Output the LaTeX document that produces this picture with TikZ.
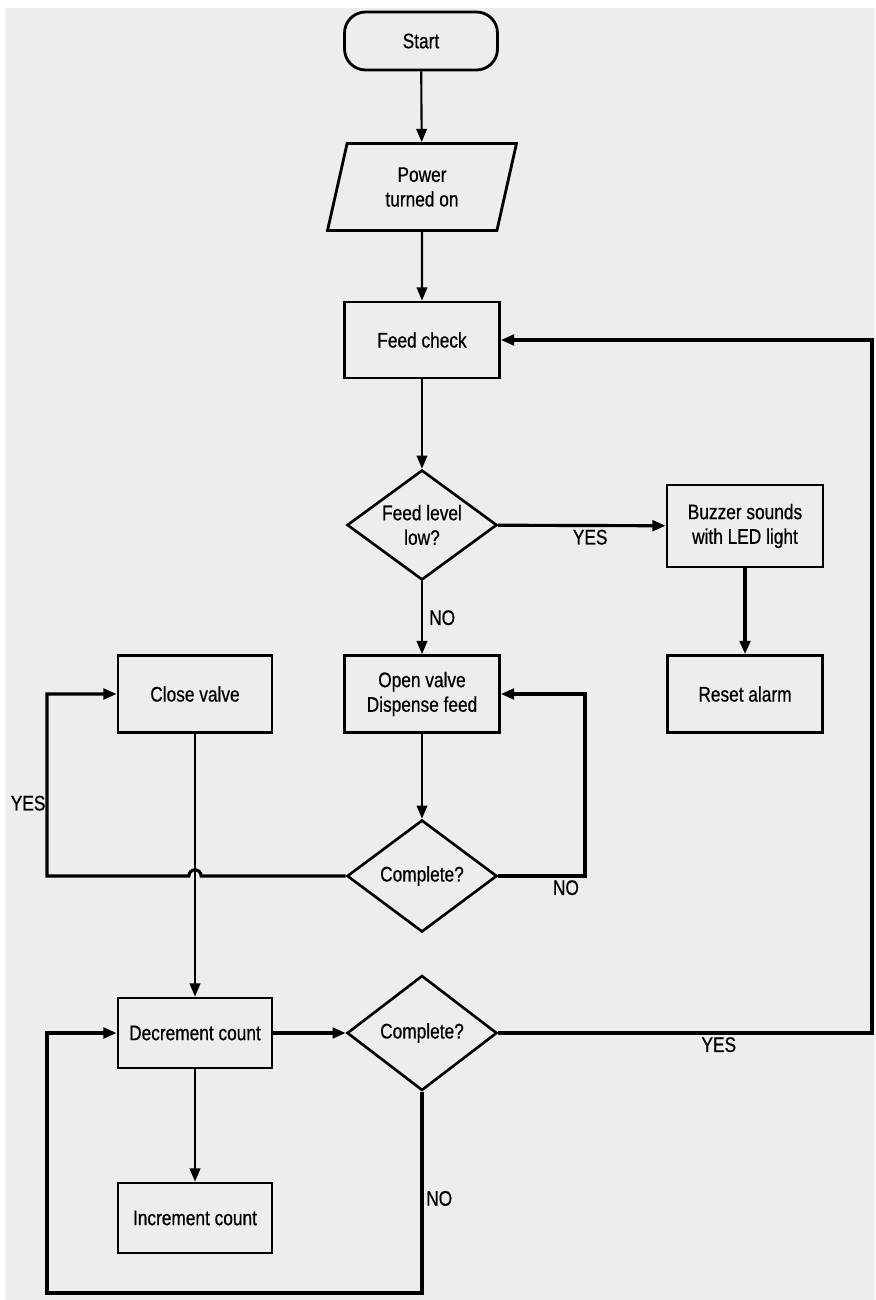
\documentclass[tikz,border=0pt]{standalone}
\usepackage{fontspec}
\setmainfont{Liberation Sans}[FakeStretch=0.82,FakeBold=0.6]
\usepackage{tikz}
\usetikzlibrary{arrows.meta,shapes.geometric}
\definecolor{bggray}{HTML}{EDEDED}

\begin{document}
\begin{tikzpicture}[x=0.02cm,y=-0.02cm,
    every node/.style={font=\fontsize{12}{14}\selectfont,align=center},
    box/.style={draw,line width=1.6pt,rectangle,inner sep=2pt},
    term/.style={box,rounded corners=0.42cm,minimum width=3.06cm,minimum height=1.16cm},
    inout/.style={draw,line width=1.6pt,trapezium,trapezium left angle=69,trapezium right angle=111,
      trapezium stretches body,minimum width=3.78cm,minimum height=1.74cm},
    decide/.style={draw,line width=1.5pt,diamond,aspect=1.35,inner sep=0pt,minimum width=3cm,minimum height=2.24cm},
    conn/.style={line width=1.2pt,-{Triangle[length=7.5pt,width=6pt]}},
    back/.style={conn,line width=1.8pt},
    lbl/.style={inner sep=1.5pt}]
  % background
  \fill[white] (0,0) rectangle (875,1300);
  \fill[bggray] (5,8) rectangle (875,1300);
  \useasboundingbox (0,0) rectangle (875,1300);

  % main column
  \node[term] (start) at (421,41) {Start};
  \node[inout] (pwr) at (422,187) {Power\\turned on};
  \node[box,minimum width=3.1cm,minimum height=1.52cm] (fc) at (422,340) {Feed check};
  \node[decide,minimum height=2.2cm] (lvl) at (422,525) {Feed level\\low?};
  \node[box,minimum width=3.12cm,minimum height=1.64cm] (buz) at (745,526) {Buzzer sounds\\with LED light};
  \node[box,minimum width=3.1cm,minimum height=1.54cm] (rst) at (745,694) {Reset alarm};
  \node[box,minimum width=3.1cm,minimum height=1.54cm] (ov) at (422,694) {Open valve\\Dispense feed};
  \node[box,minimum width=3.08cm,minimum height=1.54cm] (cv) at (195,694) {Close valve};
  \node[decide] (cmp1) at (422,876) {Complete?};
  \node[box,minimum width=3.08cm,minimum height=1.4cm] (dec) at (195,1033) {Decrement count};
  \node[decide,minimum height=2.3cm] (cmp2) at (422,1033) {Complete?};
  \node[box,minimum width=3.08cm,minimum height=1.4cm] (inc) at (195,1218) {Increment count};

  % loop rails
  \coordinate (lft) at (47,0);
  \coordinate (mid) at (585,0);
  \coordinate (rgt) at (872,0);
  \coordinate (bot) at (0,1293);

  \draw[conn] (start) -- (pwr);
  \draw[conn] (pwr) -- (fc);
  \draw[conn] (fc) -- (lvl);
  \draw[back] (lvl) -- node[lbl,pos=0.55,below]{YES} (buz);
  \draw[back] (buz) -- (rst);
  \draw[conn] (lvl) -- node[lbl,right,xshift=2pt]{NO} (ov);
  \draw[conn] (ov) -- (cmp1);
  \draw[back] (cmp1.east) -- node[lbl,pos=0.78,below]{NO} (cmp1.east -| mid) |- (ov.east);
  \draw[back] (cmp1.west) -- ([xshift=3.5pt]cmp1.west -| cv.south)
    arc[start angle=0,end angle=180,radius=3.5pt] -- (cmp1.west -| lft)
    |- node[lbl,pos=0.2,left,inner sep=0pt]{YES} (cv.west);
  \draw[conn] (cv) -- (dec);
  \draw[back] (dec) -- (cmp2);
  \draw[conn] (dec) -- (inc);
  \draw[back] (cmp2.east) -- node[lbl,pos=0.59,below]{YES} (cmp2.east -| rgt) |- (fc.east);
  \draw[back] (cmp2.south) |- node[lbl,pos=0.265,right]{NO} (lft |- bot) |- (dec.west);
\end{tikzpicture}
\end{document}
